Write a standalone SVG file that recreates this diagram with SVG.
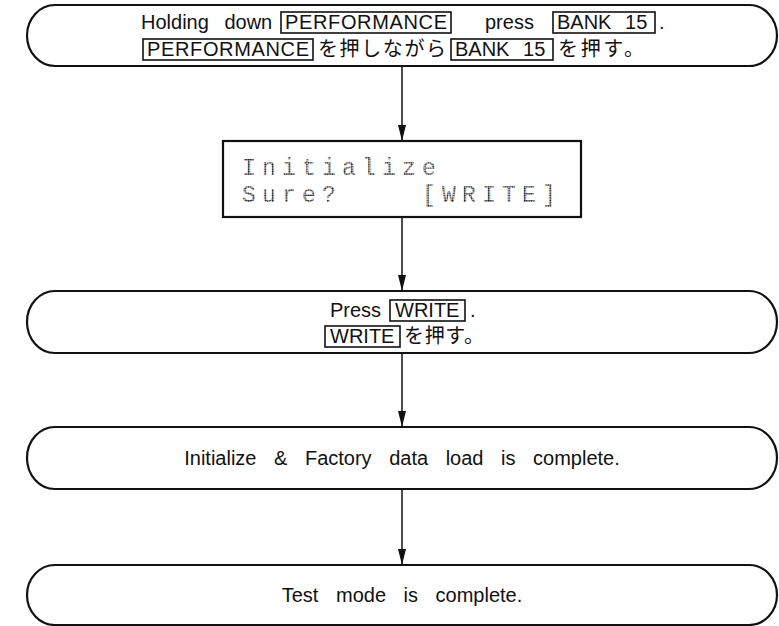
<svg xmlns="http://www.w3.org/2000/svg" width="779" height="626" viewBox="0 0 779 626">
  <defs>
    <style>
      .node { fill: #ffffff; stroke: #111111; stroke-width: 2.2; }
      .key { fill: none; stroke: #111111; stroke-width: 1.6; }
      .t { font-family: "Liberation Sans", Arial, "Noto Sans CJK JP", sans-serif; font-size: 20px; fill: #111111; word-spacing: 10px; }
      .j { font-family: "Noto Sans CJK JP", "Liberation Sans", sans-serif; font-size: 20px; fill: #111111; }
      .lcd { font-family: "Liberation Mono", "DejaVu Sans Mono", monospace; font-size: 23px; letter-spacing: 6.2px; fill: url(#dots); }
      .conn { stroke: #111111; stroke-width: 1.5; fill: none; }
    </style>
    <pattern id="dots" patternUnits="userSpaceOnUse" width="2.4" height="2.4">
      <circle cx="1.2" cy="1.2" r="1.0" fill="#111111"/>
    </pattern>
    <marker id="arrow" markerUnits="userSpaceOnUse" markerWidth="16" markerHeight="8" refX="16" refY="4" orient="auto">
      <path d="M0,0 L16,4 L0,8 Z" fill="#111111"/>
    </marker>
  </defs>

  <g id="connectors">
    <line class="conn" x1="402" y1="66" x2="402" y2="141" marker-end="url(#arrow)"/>
    <line class="conn" x1="402" y1="217" x2="402" y2="291" marker-end="url(#arrow)"/>
    <line class="conn" x1="402" y1="353" x2="402" y2="427" marker-end="url(#arrow)"/>
    <line class="conn" x1="402" y1="489" x2="402" y2="565" marker-end="url(#arrow)"/>
  </g>

  <g id="step1">
    <rect class="node" x="27" y="5" width="750" height="61" rx="28" ry="30.5"/>
    <text class="t" x="141" y="29">Holding down</text>
    <rect class="key" x="281" y="12" width="170" height="21"/>
    <text class="t" x="285" y="29" textLength="162" lengthAdjust="spacing">PERFORMANCE</text>
    <text class="t" x="485" y="29">press</text>
    <rect class="key" x="553" y="12" width="102" height="21"/>
    <text class="t" x="557" y="29" style="word-spacing:8px">BANK 15</text>
    <text class="t" x="659" y="29">.</text>
    <rect class="key" x="143" y="39" width="170" height="21"/>
    <text class="t" x="147" y="56" textLength="162" lengthAdjust="spacing">PERFORMANCE</text>
    <text class="j" x="318" y="56" textLength="128" lengthAdjust="spacing">を押しながら</text>
    <rect class="key" x="451" y="39" width="102" height="21"/>
    <text class="t" x="455" y="56" style="word-spacing:8px">BANK 15</text>
    <text class="j" x="558" y="56" textLength="86" lengthAdjust="spacing">を押す。</text>
  </g>

  <g id="display">
    <rect class="node" x="223" y="141" width="358" height="76"/>
    <text class="lcd" x="242" y="175">Initialize</text>
    <text class="lcd" x="242" y="202" xml:space="preserve">Sure?    [WRITE]</text>
  </g>

  <g id="step2">
    <rect class="node" x="27" y="291" width="750" height="62" rx="28" ry="31"/>
    <text class="t" x="330" y="317">Press</text>
    <rect class="key" x="390" y="300" width="75" height="21"/>
    <text class="t" x="395" y="317">WRITE</text>
    <text class="t" x="470" y="317">.</text>
    <rect class="key" x="325" y="326" width="75" height="21"/>
    <text class="t" x="330" y="343">WRITE</text>
    <text class="j" x="404" y="343" textLength="80" lengthAdjust="spacing">を押す。</text>
  </g>

  <g id="step3">
    <rect class="node" x="27" y="427" width="750" height="62" rx="28" ry="31"/>
    <text class="t" x="402" y="465" text-anchor="middle" style="word-spacing:12px">Initialize &amp; Factory data load is complete.</text>
  </g>

  <g id="step4">
    <rect class="node" x="27" y="565" width="750" height="60" rx="28" ry="30"/>
    <text class="t" x="402" y="602" text-anchor="middle" style="word-spacing:12px">Test mode is complete.</text>
  </g>
</svg>
